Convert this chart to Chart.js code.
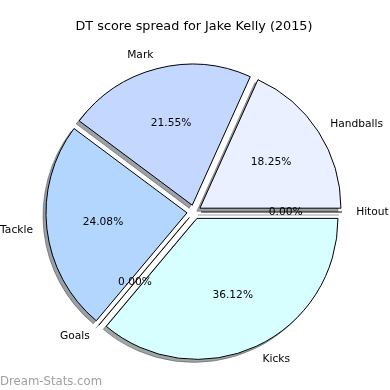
<!DOCTYPE html>
<html>
<head>
<meta charset="utf-8">
<script src="https://cdn.jsdelivr.net/npm/chart.js@4.4.1/dist/chart.umd.min.js"></script>
<style>
  html, body { margin: 0; padding: 0; background: #fff; }
  #wrap { width: 390px; height: 390px; }
</style>
</head>
<body>
<div id="wrap"><canvas id="pieChart" width="390" height="390"></canvas></div>
<script>
// // DT score spread pie

const categories = ['Handballs', 'Mark', 'Tackle', 'Goals', 'Kicks', 'Hitout'];
const shares = [18.25, 21.55, 24.08, 0.00, 36.12, 0.00];
const sliceColors = ['#eaf0ff', '#c4d8ff', '#b3d6ff', '#c8e6ff', '#d8ffff', '#e0e0ff'];
const chartTitle = 'DT score spread for Jake Kelly (2015)';
const watermark = 'Dream-Stats.com';

// matplotlib goes counter-clockwise from 3 o'clock, chart.js clockwise -> reverse
const pieLabels = categories.slice().reverse();
const pieValues = shares.slice().reverse();
const pieColors = sliceColors.slice().reverse();

const FONT = "'DejaVu Sans', sans-serif";
const EXPLODE = 0.05;   // fraction of radius
const SHADOW_X = -3, SHADOW_Y = 3;

function shade(hex) {
    const n = parseInt(hex.slice(1), 16);
    const r = (n >> 16) & 255, g = (n >> 8) & 255, b = n & 255;
    return 'rgba(' + Math.round(r * 0.3) + ',' + Math.round(g * 0.3) + ',' + Math.round(b * 0.3) + ',0.5)';
}

const mplPie = {
    id: 'mplPie',
    beforeDatasetDraw() {
        return false; // drawn below with explode + shadow
    },
    afterDatasetsDraw(chart) {
        const ctx = chart.ctx;
        const meta = chart.getDatasetMeta(0);
        const arcs = meta.data;
        const values = chart.data.datasets[0].data;
        const total = values.reduce((a, b) => a + b, 0);

        const mid = el => el.circumference > 0 ? (el.startAngle + el.endAngle) / 2 : el.startAngle;

        function zeroLine(el, color) {
            ctx.beginPath();
            ctx.moveTo(el.x, el.y);
            ctx.lineTo(el.x + Math.cos(el.startAngle) * el.outerRadius, el.y + Math.sin(el.startAngle) * el.outerRadius);
            ctx.strokeStyle = color;
            ctx.lineWidth = 1;
            ctx.stroke();
        }

        // shadows
        arcs.forEach((el, i) => {
            const a = mid(el), d = EXPLODE * el.outerRadius;
            const col = shade(pieColors[i]);
            ctx.save();
            ctx.translate(Math.cos(a) * d + SHADOW_X, Math.sin(a) * d + SHADOW_Y);
            if (el.circumference > 0) {
                const orig = el.options;
                el.options = Object.assign({}, orig, {backgroundColor: col, borderColor: col});
                el.draw(ctx);
                el.options = orig;
            } else {
                zeroLine(el, col);
            }
            ctx.restore();
        });

        // wedges
        arcs.forEach((el) => {
            const a = mid(el), d = EXPLODE * el.outerRadius;
            ctx.save();
            ctx.translate(Math.cos(a) * d, Math.sin(a) * d);
            if (el.circumference > 0) el.draw(ctx);
            else zeroLine(el, '#000');
            ctx.restore();
        });

        // labels + percentages
        ctx.save();
        ctx.font = '10.67px ' + FONT;
        ctx.fillStyle = '#000';
        ctx.textBaseline = 'middle';
        arcs.forEach((el, i) => {
            const a = mid(el), r = el.outerRadius, d = EXPLODE * r;
            const cx = el.x + Math.cos(a) * d, cy = el.y + Math.sin(a) * d;
            ctx.textAlign = Math.cos(a) > 0 ? 'left' : 'right';
            ctx.fillText(chart.data.labels[i], cx + Math.cos(a) * r * 1.1, cy + Math.sin(a) * r * 1.1);
            ctx.textAlign = 'center';
            const pct = (values[i] / total * 100).toFixed(2) + '%';
            ctx.fillText(pct, cx + Math.cos(a) * r * 0.6, cy + Math.sin(a) * r * 0.6);
        });
        ctx.restore();

        // watermark
        ctx.save();
        ctx.font = '11.7px ' + FONT;
        ctx.fillStyle = '#a0a0a0';
        ctx.textAlign = 'left';
        ctx.textBaseline = 'alphabetic';
        ctx.fillText(watermark, 0, 385);
        ctx.restore();
    }
};

new Chart(document.getElementById('pieChart'), {
    type: 'pie',
    data: {
        labels: pieLabels,
        datasets: [{
            data: pieValues,
            backgroundColor: pieColors,
            borderColor: '#000',
            borderWidth: 1
        }]
    },
    plugins: [mplPie],
    options: {
        responsive: false,
        animation: false,
        devicePixelRatio: 1,
        rotation: 90,
        radius: 141,
        layout: {
            padding: {left: 0, right: 2, top: 0, bottom: 0.36}
        },
        plugins: {
            legend: {display: false},
            tooltip: {enabled: false},
            title: {
                display: true,
                text: chartTitle,
                color: '#000',
                font: {family: FONT, size: 12.8, weight: 'normal'},
                padding: {top: 19, bottom: 0}
            }
        }
    }
});
</script>
</body>
</html>
